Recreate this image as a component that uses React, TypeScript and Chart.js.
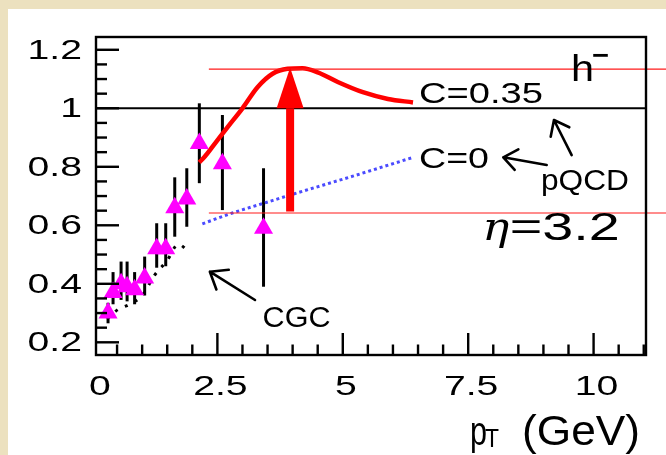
import { useEffect, useRef } from 'react';
import { Chart, registerables } from 'chart.js';

Chart.register(...registerables);

// Measured h- ratio vs transverse momentum (GeV), with vertical error bars
const ptData = [0.32, 0.42, 0.58, 0.7, 0.85, 1.05, 1.29, 1.47, 1.65, 1.89, 2.14, 2.6, 3.42];
const ratioData = [0.3, 0.37, 0.4, 0.39, 0.38, 0.42, 0.52, 0.52, 0.66, 0.69, 0.88, 0.81, 0.59];
const ratioLow = [0.265, 0.33, 0.345, 0.34, 0.33, 0.36, 0.455, 0.46, 0.561, 0.595, 0.744, 0.652, 0.39];
const ratioHigh = [0.335, 0.44, 0.476, 0.476, 0.44, 0.493, 0.607, 0.607, 0.764, 0.795, 1.017, 0.977, 0.795];

// pQCD with C = 0.35
const ptC035 = [2.14, 2.25, 2.4, 2.7, 3.0, 3.3, 3.6, 3.9, 4.2, 4.5, 4.9, 5.4, 5.9, 6.4];
const ratioC035 = [0.815, 0.835, 0.868, 0.935, 1.0, 1.072, 1.118, 1.135, 1.137, 1.123, 1.09, 1.055, 1.032, 1.02];

// pQCD with C = 0
const ptC0 = [2.2, 2.8, 3.4, 4.0, 4.6, 5.2, 5.8, 6.4];
const ratioC0 = [0.605, 0.642, 0.674, 0.706, 0.737, 0.768, 0.8, 0.832];

// Color glass condensate
const ptCGC = [0.3, 0.5, 0.75, 1.0, 1.25, 1.5, 1.72, 1.95];
const ratioCGC = [0.28, 0.31, 0.33, 0.36, 0.43, 0.48, 0.535, 0.505];

const xTickValues = [0, 2.5, 5, 7.5, 10];
const xTickLabels = ['0', '2.5', '5', '7.5', '10'];
const yTickValues = [0.2, 0.4, 0.6, 0.8, 1, 1.2];
const yTickLabels = ['0.2', '0.4', '0.6', '0.8', '1', '1.2'];

// Suppression guide: peak of the C = 0.35 curve and the level it is lifted from
const peakLevel = 1.134;
const baseLevel = 0.642;
const guideStartPt = 2.33;
const arrowPt = 3.95;

const FONT = '"Liberation Sans", Arial, Helvetica, sans-serif';

function drawScaled(
  ctx: CanvasRenderingContext2D,
  text: string,
  x: number,
  y: number,
  font: string,
  sx: number,
  align: CanvasTextAlign = 'left',
  baseline: CanvasTextBaseline = 'alphabetic'
) {
  ctx.save();
  ctx.font = font;
  ctx.textAlign = align;
  ctx.textBaseline = baseline;
  ctx.translate(x, y);
  ctx.scale(sx, 1);
  ctx.fillText(text, 0, 0);
  ctx.restore();
}

function drawFitted(
  ctx: CanvasRenderingContext2D,
  text: string,
  x: number,
  y: number,
  font: string,
  width: number,
  baseline: CanvasTextBaseline = 'alphabetic'
) {
  ctx.save();
  ctx.font = font;
  const w = ctx.measureText(text).width;
  ctx.restore();
  drawScaled(ctx, text, x, y, font, width / w, 'left', baseline);
}

function openArrow(ctx: CanvasRenderingContext2D, x1: number, y1: number, x2: number, y2: number, head = 17) {
  const a = Math.atan2(y2 - y1, x2 - x1);
  const spread = 0.66;
  ctx.beginPath();
  ctx.moveTo(x1, y1);
  ctx.lineTo(x2, y2);
  ctx.moveTo(x2 - head * Math.cos(a - spread), y2 - head * Math.sin(a - spread));
  ctx.lineTo(x2, y2);
  ctx.lineTo(x2 - head * Math.cos(a + spread), y2 - head * Math.sin(a + spread));
  ctx.stroke();
}

const decorPlugin = {
  id: 'decor',
  beforeDatasetsDraw(chart: any) {
    const { ctx, chartArea, scales } = chart;
    const { left, right } = chartArea;
    const xs = scales.x;
    const ys = scales.y;
    ctx.save();
    ctx.strokeStyle = '#000';
    // unity reference line
    ctx.lineWidth = 2;
    const y1 = ys.getPixelForValue(1);
    ctx.beginPath();
    ctx.moveTo(left, y1);
    ctx.lineTo(right, y1);
    ctx.stroke();
    // error bars
    ctx.lineWidth = 3;
    ptData.forEach((p, i) => {
      const px = xs.getPixelForValue(p);
      ctx.beginPath();
      ctx.moveTo(px, ys.getPixelForValue(ratioLow[i]));
      ctx.lineTo(px, ys.getPixelForValue(ratioHigh[i]));
      ctx.stroke();
    });
    ctx.restore();
  },
  afterDatasetsDraw(chart: any) {
    const { ctx, chartArea, scales, width } = chart;
    const { left, right, top, bottom } = chartArea;
    const xs = scales.x;
    const ys = scales.y;
    const X = (v: number) => xs.getPixelForValue(v);
    const Y = (v: number) => ys.getPixelForValue(v);

    ctx.save();

    // thin red guide lines
    ctx.strokeStyle = '#ff1a1a';
    ctx.lineWidth = 1.2;
    [peakLevel, baseLevel].forEach((lv) => {
      ctx.beginPath();
      ctx.moveTo(X(guideStartPt), Y(lv));
      ctx.lineTo(width, Y(lv));
      ctx.stroke();
    });

    // thick red arrow
    const ax = X(arrowPt);
    const shaftHalf = 4;
    const headHalf = 13.5;
    ctx.fillStyle = '#ff0000';
    ctx.fillRect(ax - shaftHalf, Y(1), shaftHalf * 2, Y(baseLevel) - 1.5 - Y(1));
    ctx.beginPath();
    ctx.moveTo(ax - headHalf, Y(1));
    ctx.lineTo(ax + headHalf, Y(1));
    ctx.lineTo(ax, Y(peakLevel) - 1.5);
    ctx.closePath();
    ctx.fill();

    // frame
    ctx.strokeStyle = '#000';
    ctx.lineWidth = 2.4;
    ctx.strokeRect(left, top, right - left, bottom - top);

    // inward ticks
    ctx.lineWidth = 2.4;
    const yMin = ys.min;
    const yMax = ys.max;
    for (let k = 0; k <= 40; k++) {
      const v = Math.round((0.1 + k * 0.05) * 100) / 100;
      if (v < yMin || v > yMax) continue;
      const major = Math.abs(v * 5 - Math.round(v * 5)) < 1e-6;
      const py = Y(v);
      ctx.beginPath();
      ctx.moveTo(left, py);
      ctx.lineTo(left + (major ? 23 : 11), py);
      ctx.stroke();
    }
    const xMin = xs.min;
    const xMax = xs.max;
    for (let k = 0; k <= 30; k++) {
      const v = k * 0.5;
      if (v < xMin || v > xMax) continue;
      const major = k % 5 === 0;
      const px = X(v);
      ctx.beginPath();
      ctx.moveTo(px, bottom);
      ctx.lineTo(px, bottom - (major ? 22 : 10.5));
      ctx.stroke();
    }

    // tick labels
    ctx.fillStyle = '#000';
    const tickFont = `27px ${FONT}`;
    yTickValues.forEach((v, i) => {
      drawScaled(ctx, yTickLabels[i], 82, Y(v) + 1.5, tickFont, 1.45, 'right', 'middle');
    });
    xTickValues.forEach((v, i) => {
      const cx = Math.max(X(v) + 3, left + 4);
      drawScaled(ctx, xTickLabels[i], cx, bottom + 33, tickFont, 1.45, 'center', 'middle');
    });

    // axis title
    const titleBase = bottom + 90;
    drawFitted(ctx, '(GeV)', right - 124, titleBase, `42px ${FONT}`, 118);
    drawFitted(ctx, 'p', right - 176, titleBase, `40px ${FONT}`, 17);
    drawFitted(ctx, 'T', right - 161, titleBase + 2, `26px ${FONT}`, 14);

    // curve labels and notes
    drawFitted(ctx, 'C=0.35', X(6.52), Y(1.017), `30px ${FONT}`, 124);
    drawFitted(ctx, 'C=0', X(6.52), Y(0.795), `29px ${FONT}`, 70);
    drawFitted(ctx, 'pQCD', X(8.95), Y(0.7207), `29px ${FONT}`, 88);
    drawFitted(ctx, 'η', X(7.78), Y(0.5497), `italic 40px "DejaVu Serif", serif`, 27);
    drawFitted(ctx, '=3.2', X(8.33), Y(0.5497), `39px ${FONT}`, 110);
    drawFitted(ctx, 'CGC', X(3.4), Y(0.2533), `30px ${FONT}`, 68);
    drawFitted(ctx, 'h', X(9.55), Y(1.0933), `36px ${FONT}`, 23);
    drawFitted(ctx, '−', X(9.97), Y(1.1754), `bold 26px ${FONT}`, 17, 'middle');

    // pointer arrows
    ctx.lineWidth = 2.6;
    ctx.lineCap = 'round';
    ctx.lineJoin = 'round';
    openArrow(ctx, X(9.065), Y(0.806), X(8.2), Y(0.8325));
    openArrow(ctx, X(9.563), Y(0.84), X(9.21), Y(0.96));
    openArrow(ctx, X(3.25), Y(0.3446), X(2.35), Y(0.4414), 19);

    ctx.restore();
  },
};

export default function App() {
  const canvasRef = useRef<HTMLCanvasElement>(null);

  useEffect(() => {
    const canvas = canvasRef.current;
    if (!canvas) return;
    const pts = (xsArr: number[], ysArr: number[]) => xsArr.map((x, i) => ({ x, y: ysArr[i] }));
    const chart = new Chart(canvas, {
      type: 'scatter',
      data: {
        datasets: [
          {
            label: 'h-',
            data: pts(ptData, ratioData),
            pointStyle: 'triangle',
            pointRadius: 11,
            pointBackgroundColor: '#ff00ff',
            pointBorderColor: '#ff00ff',
            pointBorderWidth: 0,
            showLine: false,
            order: 0,
          },
          {
            label: 'C=0.35',
            data: pts(ptC035, ratioC035),
            showLine: true,
            borderColor: '#ff0000',
            borderWidth: 4.5,
            pointRadius: 0,
            cubicInterpolationMode: 'monotone',
            order: 2,
          },
          {
            label: 'C=0',
            data: pts(ptC0, ratioC0),
            showLine: true,
            borderColor: '#4b4bff',
            borderWidth: 3,
            borderDash: [3, 3],
            pointRadius: 0,
            cubicInterpolationMode: 'monotone',
            order: 3,
          },
          {
            label: 'CGC',
            data: pts(ptCGC, ratioCGC),
            showLine: true,
            borderColor: '#000000',
            borderWidth: 3,
            borderDash: [3, 8],
            pointRadius: 0,
            cubicInterpolationMode: 'monotone',
            order: 4,
          },
        ],
      },
      options: {
        animation: false,
        responsive: false,
        devicePixelRatio: 1,
        layout: { padding: { left: 96, top: 37, right: 20, bottom: 100 } },
        plugins: { legend: { display: false }, tooltip: { enabled: false } },
        scales: {
          x: { type: 'linear', display: false, min: 0.08, max: 11.045, bounds: 'data' },
          y: { type: 'linear', display: false, min: 0.1566, max: 1.2437, bounds: 'data' },
        },
      },
      plugins: [decorPlugin],
    });
    return () => chart.destroy();
  }, []);

  return (
    <div
      style={{
        position: 'fixed',
        left: 0,
        top: 0,
        width: 666,
        height: 455,
        background: '#ece1bf',
        overflow: 'hidden',
      }}
    >
      <div style={{ position: 'absolute', left: 8, top: 9, right: 0, bottom: 0, background: '#ffffff' }} />
      <canvas
        ref={canvasRef}
        width={666}
        height={455}
        style={{ position: 'absolute', left: 0, top: 0, width: 666, height: 455 }}
      />
    </div>
  );
}
